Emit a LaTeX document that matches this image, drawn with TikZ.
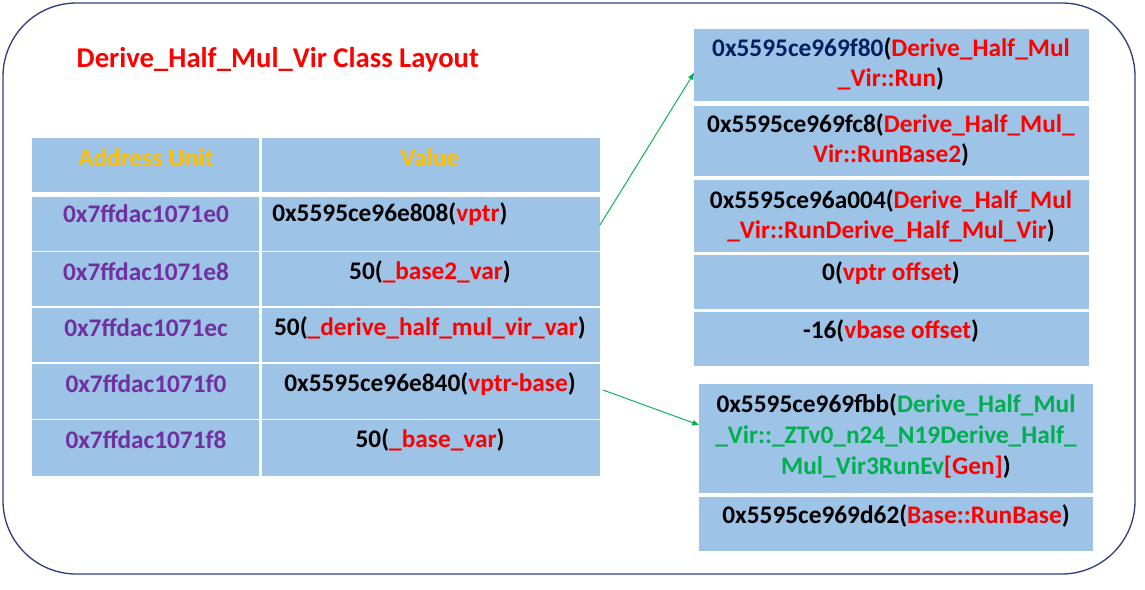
\documentclass[tikz,border=0pt]{standalone}
\usepackage{fontspec}
\setmainfont{Carlito}
\usetikzlibrary{arrows.meta}
\definecolor{cell}{HTML}{9DC3E6}
\definecolor{rd}{HTML}{FF0000}
\definecolor{gr}{HTML}{00B050}
\definecolor{pu}{HTML}{7030A0}
\definecolor{gold}{HTML}{FFC000}
\definecolor{navy}{HTML}{002060}
\definecolor{frame}{HTML}{2F3F7F}
\begin{document}
\begin{tikzpicture}[x=0.75pt,y=-0.75pt,font=\bfseries\fontsize{19}{22}\selectfont,
 cellbox/.style={fill=cell,draw=none},
 txt/.style={inner sep=0pt,align=center},
 ml/.style={font=\bfseries\fontsize{19}{23}\selectfont},
 arr/.style={draw=gr,-{Triangle[length=5pt,width=4pt]},line width=0.7pt}]
\useasboundingbox (0,0) rectangle (1145,589);
\draw[frame,line width=1pt,rounded corners=55pt] (3,3) rectangle (1135,574);
\node[anchor=west,rd,font=\bfseries\fontsize{21.5}{24}\selectfont] (title) at (72,60) {Derive\_Half\_Mul\_Vir Class Layout};
% table
\foreach \ya/\yb in {138/192,197/251,252/306,308/362,364/419,420/476}{
 \fill[cell] (32,\ya) rectangle (259,\yb);
 \fill[cell] (262,\ya) rectangle (600,\yb);}
\node[txt,gold] (h1) at (146,158) {Address Unit};
\node[txt,gold] (h2) at (430,158) {Value};
\node[txt,pu] (a1) at (146,214) {0x7ffdac1071e0};
\node[txt,pu] (a2) at (146,272) {0x7ffdac1071e8};
\node[txt,pu] (a3) at (146,328) {0x7ffdac1071ec};
\node[txt,pu] (a4) at (146,384) {0x7ffdac1071f0};
\node[txt,pu] (a5) at (146,440) {0x7ffdac1071f8};
\node[txt,anchor=west] (v1) at (272,214) {0x5595ce96e808(\textcolor{rd}{vptr})};
\node[txt] (v2) at (430,272) {50(\textcolor{rd}{\_base2\_var})};
\node[txt] (v3) at (430,328) {50(\textcolor{rd}{\_derive\_half\_mul\_vir\_var})};
\node[txt] (v4) at (430,384) {0x5595ce96e840(\textcolor{rd}{vptr-base})};
\node[txt] (v5) at (430,440) {50(\textcolor{rd}{\_base\_var})};
% vtable
\foreach \ya/\yb in {29/101,106/176,180/252,255/309,312/366}{
 \fill[cell] (694,\ya) rectangle (1089,\yb);}
\foreach \ya/\yb in {384/493,497/551}{
 \fill[cell] (699,\ya) rectangle (1093,\yb);}
\node[txt,ml] (r1) at (891,64) {\textcolor{navy}{0x5595ce969f80}(\textcolor{rd}{Derive\_Half\_Mul}\\\textcolor{rd}{\_Vir::Run})};
\node[txt,ml] (r2) at (891,140) {0x5595ce969fc8(\textcolor{rd}{Derive\_Half\_Mul\_}\\\textcolor{rd}{Vir::RunBase2})};
\node[txt,ml] (r3) at (891,216) {0x5595ce96a004(\textcolor{rd}{Derive\_Half\_Mul}\\\textcolor{rd}{\_Vir::RunDerive\_Half\_Mul\_Vir})};
\node[txt] (r4) at (891,273) {0(\textcolor{rd}{vptr offset})};
\node[txt] (r5) at (891,331) {-16(\textcolor{rd}{vbase offset})};
\node[txt,ml] (s1) at (896,436) {0x5595ce969fbb(\textcolor{gr}{Derive\_Half\_Mul}\\\textcolor{gr}{\_Vir::\_ZTv0\_n24\_N19Derive\_Half\_}\\\textcolor{gr}{Mul\_Vir3RunEv}\textcolor{rd}{[Gen]})};
\node[txt] (s2) at (896,516) {0x5595ce969d62(\textcolor{rd}{Base::RunBase})};
\coordinate (p1) at (600,225);
\coordinate (q1) at (694,73);
\coordinate (p2) at (603,390);
\coordinate (q2) at (699,425);
\draw[arr] (p1) -- (q1);
\draw[arr] (p2) -- (q2);
\end{tikzpicture}
\end{document}
